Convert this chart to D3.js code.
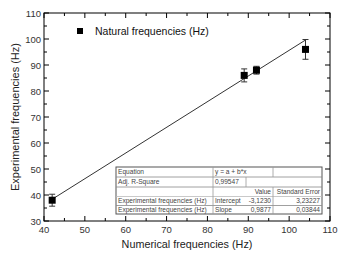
<!DOCTYPE html>
<html>
<head>
<meta charset="utf-8">
<script src="https://cdn.jsdelivr.net/npm/d3@7"></script>
<style>
  body { margin: 0; background: #fff; }
  svg { font-family: "Liberation Sans", Arial, sans-serif; }
</style>
</head>
<body>
<svg class="chart"></svg>
<script>
/* data */
const numerical = [42, 89, 92, 104];
const experimental = [38, 86, 88, 96];
const errors = [2.3, 2.5, 1.5, 3.8];
const fitIntercept = -3.123;
const fitSlope = 0.9877;
const xTicks = [40, 50, 60, 70, 80, 90, 100, 110];
const yTicks = [30, 40, 50, 60, 70, 80, 90, 100, 110];
const tableRows = [
  ["Equation", "y = a + b*x", "", ""],
  ["Adj. R-Square", "0,99547", "", ""],
  ["", "", "Value", "Standard Error"],
  ["Experimental frequencies (Hz)", "Intercept", "-3,1230", "3,23227"],
  ["Experimental frequencies (Hz)", "Slope", "0,9877", "0,03844"]
];

const width = 344, height = 259;
const margin = {left: 44, right: 14, top: 13, bottom: 38};
const svg = d3.select('.chart')
  .attr('width', width)
  .attr('height', height);

const x = d3.scaleLinear().domain([40, 110]).range([margin.left, width - margin.right]);
const y = d3.scaleLinear().domain([30, 110]).range([height - margin.bottom, margin.top]);

const minorX = d3.range(45, 110, 10);
const minorY = d3.range(35, 110, 10);

// frame
svg.append('rect')
  .attr('x', x(40)).attr('y', y(110))
  .attr('width', x(110) - x(40)).attr('height', y(30) - y(110))
  .attr('fill', 'none').attr('stroke', '#000').attr('stroke-width', 1);

// ticks on all sides, pointing inside
function tickLines(vals, len) {
  const g = svg.append('g').attr('stroke', '#000').attr('stroke-width', 1);
  vals.forEach(v => {
    g.append('line').attr('x1', x(v)).attr('x2', x(v)).attr('y1', y(30)).attr('y2', y(30) - len);
    g.append('line').attr('x1', x(v)).attr('x2', x(v)).attr('y1', y(110)).attr('y2', y(110) + len);
  });
}
tickLines(xTicks, 5);
tickLines(minorX, 3);
function tickLinesY(vals, len) {
  const g = svg.append('g').attr('stroke', '#000').attr('stroke-width', 1);
  vals.forEach(v => {
    g.append('line').attr('y1', y(v)).attr('y2', y(v)).attr('x1', x(40)).attr('x2', x(40) + len);
    g.append('line').attr('y1', y(v)).attr('y2', y(v)).attr('x1', x(110)).attr('x2', x(110) - len);
  });
}
tickLinesY(yTicks, 5);
tickLinesY(minorY, 3);

// tick labels
svg.append('g').selectAll('text')
  .data(xTicks)
  .enter().append('text')
  .attr('x', d => x(d))
  .attr('y', y(30) + 12)
  .attr('text-anchor', 'middle')
  .attr('font-size', 9.5)
  .attr('fill', '#333')
  .text(d => d);

svg.append('g').selectAll('text')
  .data(yTicks)
  .enter().append('text')
  .attr('x', x(40) - 3)
  .attr('y', d => y(d) + 3.5)
  .attr('text-anchor', 'end')
  .attr('font-size', 9.5)
  .attr('fill', '#333')
  .text(d => d);

// axis titles
svg.append('text')
  .attr('x', (x(40) + x(110)) / 2)
  .attr('y', 248)
  .attr('text-anchor', 'middle')
  .attr('font-size', 10.8)
  .attr('fill', '#222')
  .text('Numerical frequencies (Hz)');

svg.append('text')
  .attr('transform', 'translate(19,' + ((y(30) + y(110)) / 2) + ') rotate(-90)')
  .attr('text-anchor', 'middle')
  .attr('font-size', 11)
  .attr('fill', '#222')
  .text('Experimental frequencies (Hz)');

// fit line
const x0 = d3.min(numerical), x1 = d3.max(numerical);
svg.append('line')
  .attr('x1', x(x0)).attr('y1', y(fitIntercept + fitSlope * x0))
  .attr('x2', x(x1)).attr('y2', y(fitIntercept + fitSlope * x1))
  .attr('stroke', '#333').attr('stroke-width', 1);

// error bars
const pts = numerical.map((n, i) => ({x: n, y: experimental[i], e: errors[i]}));
const eb = svg.append('g').attr('stroke', '#333').attr('stroke-width', 1);
pts.forEach(p => {
  eb.append('line').attr('x1', x(p.x)).attr('x2', x(p.x)).attr('y1', y(p.y - p.e)).attr('y2', y(p.y + p.e));
  [p.y - p.e, p.y + p.e].forEach(v => {
    eb.append('line').attr('x1', x(p.x) - 3).attr('x2', x(p.x) + 3).attr('y1', y(v)).attr('y2', y(v));
  });
});

svg.append('g').selectAll('rect')
  .data(pts)
  .enter().append('rect')
  .attr('x', d => x(d.x) - 3.5)
  .attr('y', d => y(d.y) - 3.5)
  .attr('width', 7).attr('height', 7)
  .attr('fill', '#000');

// legend
svg.append('rect').attr('x', 77).attr('y', 28).attr('width', 6).attr('height', 6).attr('fill', '#000');
svg.append('text')
  .attr('x', 95).attr('y', 35)
  .attr('font-size', 10.5)
  .attr('fill', '#111')
  .text('Natural frequencies (Hz)');

// fit results table
const tx = [116, 213, 246, 273, 322];
const ty = [167, 177, 187, 196.5, 205.5, 214];
const table = svg.append('g');
table.append('rect')
  .attr('x', tx[0]).attr('y', ty[0])
  .attr('width', tx[4] - tx[0]).attr('height', ty[5] - ty[0])
  .attr('fill', '#fff').attr('stroke', '#555').attr('stroke-width', 1);
for (let r = 1; r < 5; r++) {
  table.append('line').attr('x1', tx[0]).attr('x2', tx[4]).attr('y1', ty[r]).attr('y2', ty[r])
    .attr('stroke', r === 3 ? '#bbb' : '#888').attr('stroke-width', 0.8);
}
tableRows.forEach((row, r) => {
  const cuts = r === 1 ? [tx[1], tx[2]] : [tx[1], tx[3]];
  cuts.forEach(c => {
    table.append('line').attr('x1', c).attr('x2', c).attr('y1', ty[r]).attr('y2', ty[r + 1])
      .attr('stroke', '#999').attr('stroke-width', 0.8);
  });
  const ymid = (ty[r] + ty[r + 1]) / 2 + 2.4;
  row.forEach((txt, c) => {
    if (!txt) return;
    const t = table.append('text').attr('y', ymid).attr('font-size', 6.6).attr('fill', '#444').text(txt);
    if (c === 0) t.attr('x', tx[0] + 2);
    else if (c === 1) t.attr('x', tx[1] + 2);
    else if (c === 2) t.attr('x', tx[3] - 2).attr('text-anchor', 'end');
    else t.attr('x', tx[4] - 2).attr('text-anchor', 'end');
  });
});
</script>
</body>
</html>
